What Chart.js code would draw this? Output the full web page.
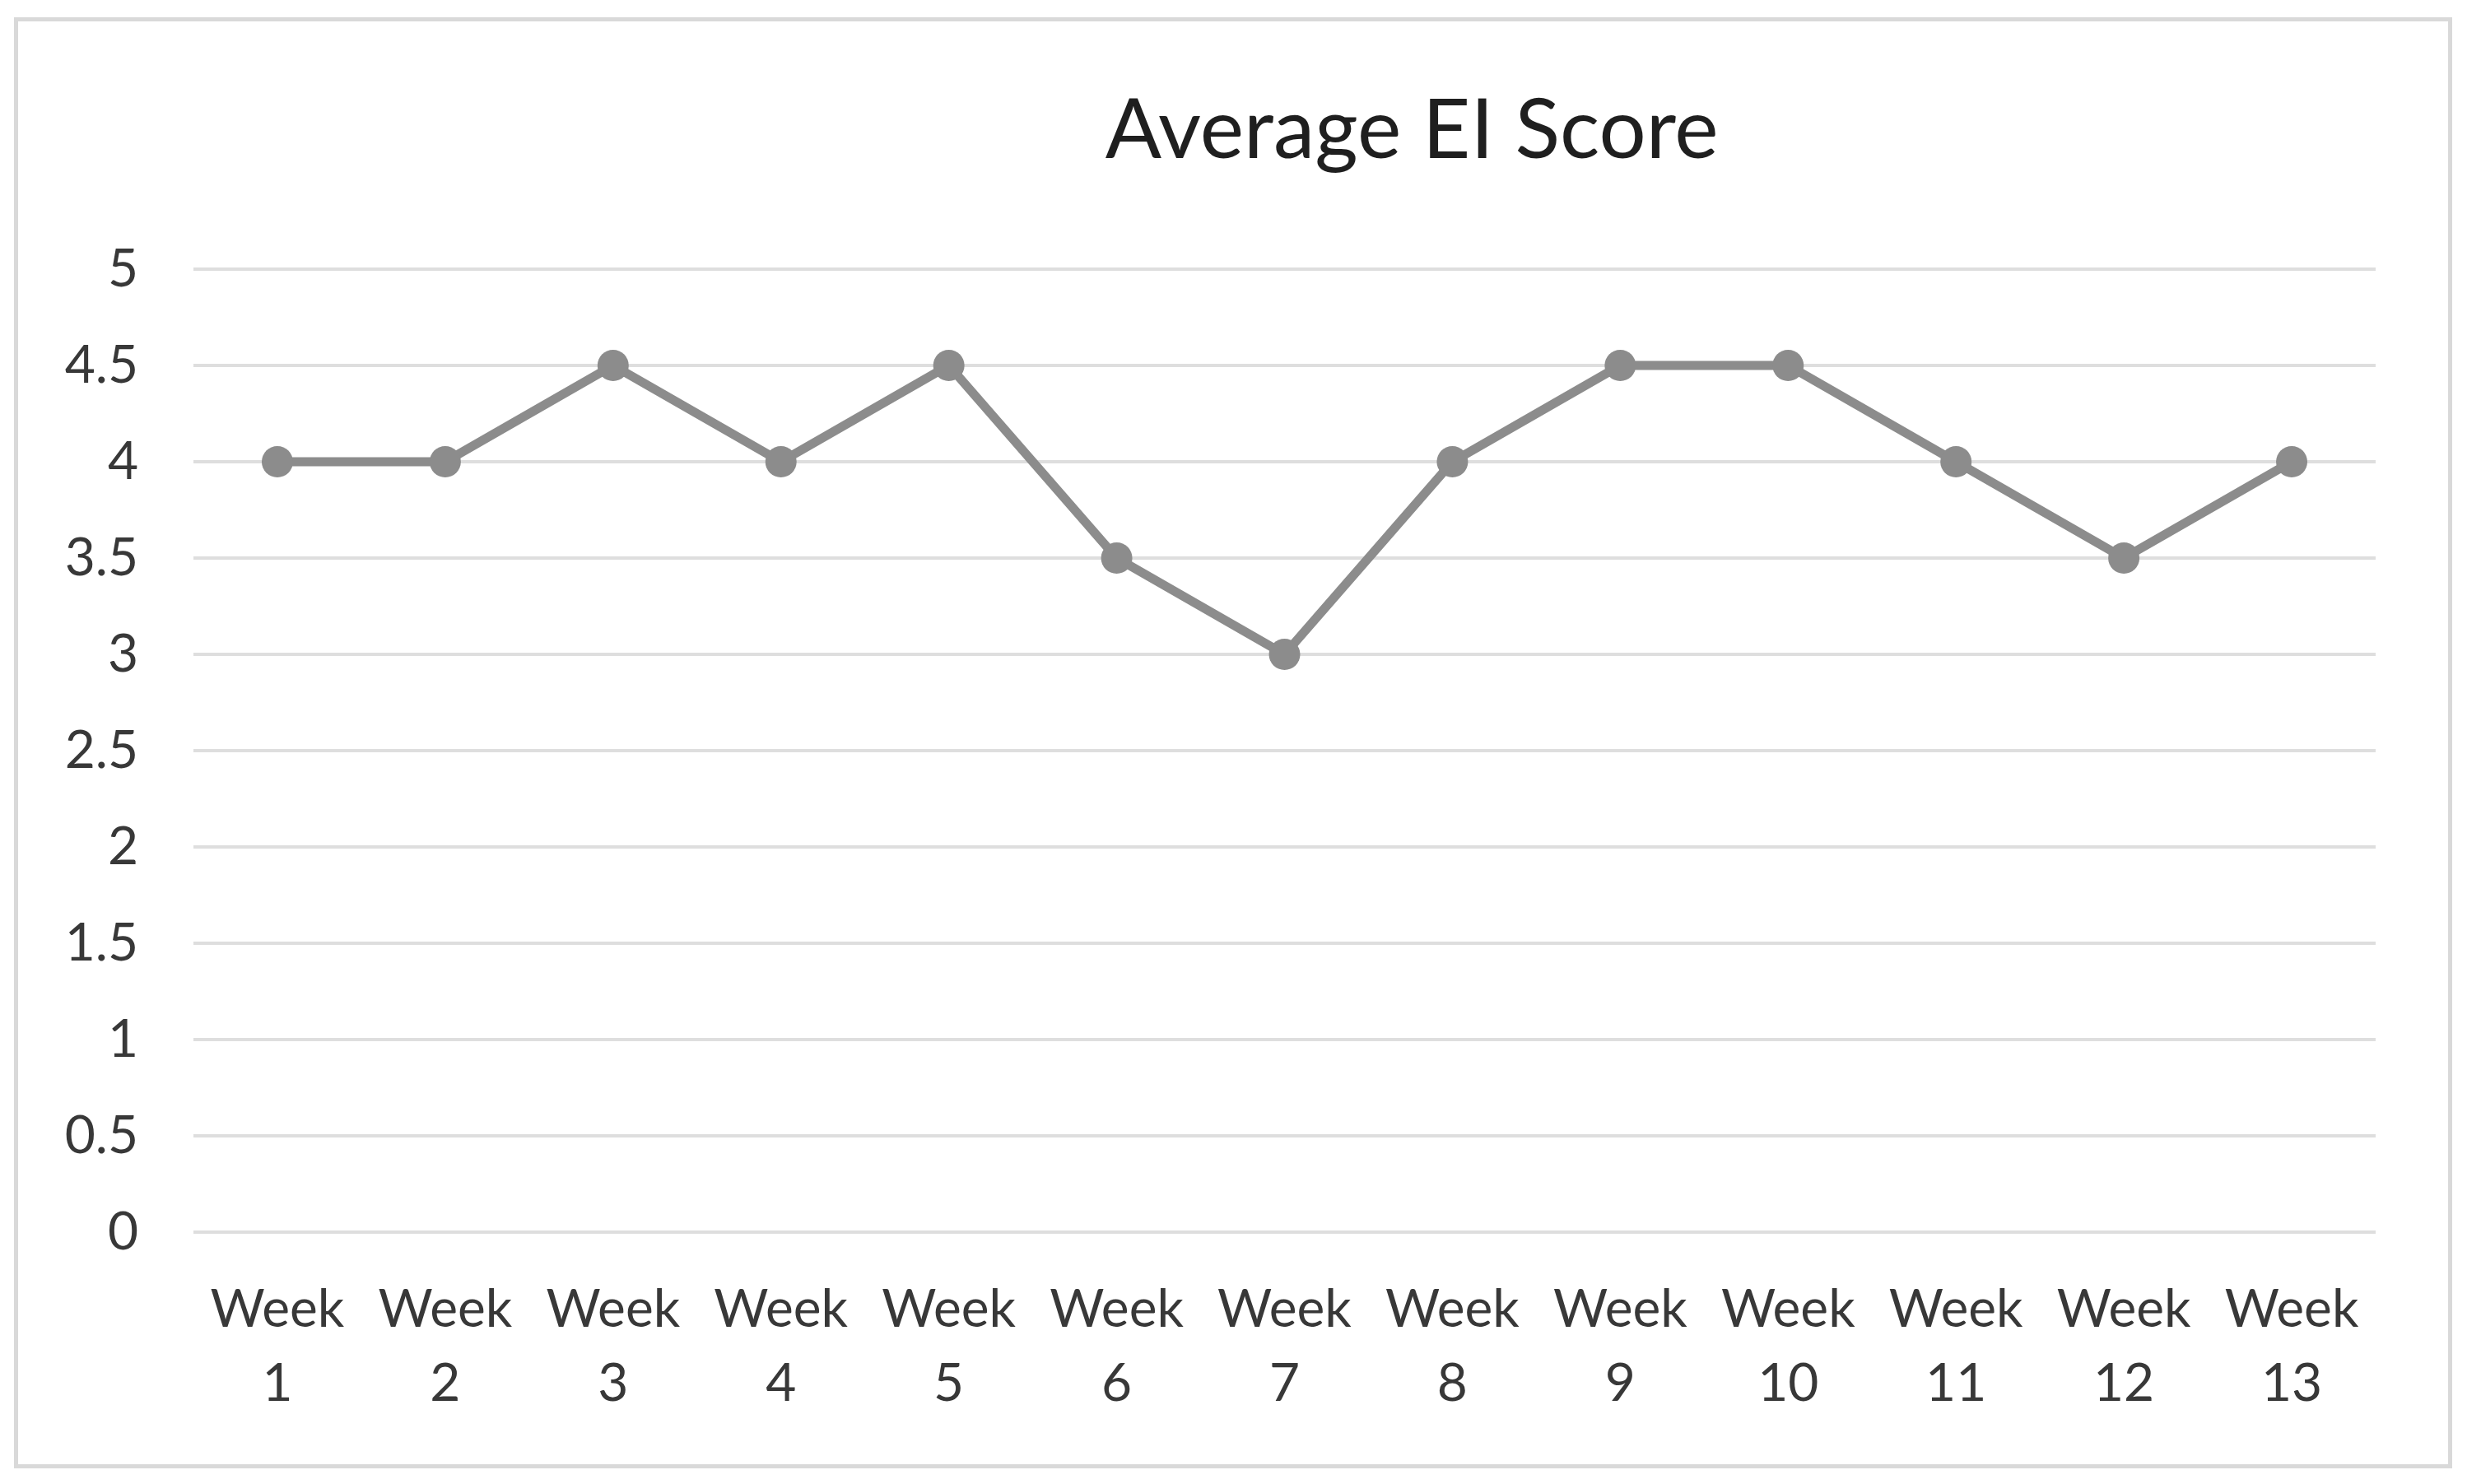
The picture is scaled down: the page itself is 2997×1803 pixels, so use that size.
<!DOCTYPE html>
<html>
<head>
<meta charset="utf-8">
<script src="https://cdn.jsdelivr.net/npm/chart.js@4"></script>
<style>
  body { margin: 0; background: #fff; }
  #wrap { position: relative; width: 2997px; height: 1803px; }
  #frame { position: absolute; left: 17px; top: 21px; width: 2952px; height: 1753px; border: 5px solid #d9d9d9; }
  canvas { position: absolute; left: 0; top: 0; }
</style>
</head>
<body>
<div id="wrap">
  <div id="frame"></div>
  <canvas id="chart" width="2997" height="1803"></canvas>
</div>
<script>
const weeks = ["1", "2", "3", "4", "5", "6", "7", "8", "9", "10", "11", "12", "13"];
const scores = [4, 4, 4.5, 4, 4.5, 3.5, 3, 4, 4.5, 4.5, 4, 3.5, 4];
const chartTitle = "Average EI Score";

// title sits right of centre in the original, so draw it by hand
const titlePlugin = {
  id: "offsetTitle",
  afterDraw(chart) {
    const ctx = chart.ctx;
    ctx.save();
    ctx.font = "101px Lato";
    ctx.fillStyle = "#1f1f1f";
    ctx.textAlign = "center";
    ctx.textBaseline = "middle";
    ctx.fillText(chartTitle, chart.width * 0.5723, 159);
    ctx.restore();
  },
};

new Chart(document.getElementById("chart"), {
  type: "line",
  data: {
    labels: weeks.map((w) => ["Week", w]),
    datasets: [
      {
        label: chartTitle,
        data: scores,
        borderColor: "#8c8c8c",
        backgroundColor: "#8c8c8c",
        borderWidth: 11,
        pointRadius: 19,
        pointBackgroundColor: "#8c8c8c",
        pointBorderWidth: 0,
        tension: 0,
      },
    ],
  },
  options: {
    responsive: false,
    animation: false,
    devicePixelRatio: 1,
    layout: { padding: { top: 327, right: 111, bottom: 0, left: 0 } },
    plugins: {
      legend: { display: false },
      title: { display: false },
      tooltip: { enabled: false },
    },
    scales: {
      x: {
        offset: true,
        grid: { display: false, drawTicks: false },
        border: { display: false },
        ticks: {
          padding: 50,
          maxRotation: 0,
          autoSkip: false,
          color: "#383838",
          font: { family: "Lato", size: 64, lineHeight: 1.4 },
        },
        afterFit: (scale) => { scale.height = 306; },
      },
      y: {
        min: 0,
        max: 5,
        grid: { color: "#dedede", lineWidth: 4, drawTicks: false },
        border: { display: false },
        ticks: {
          stepSize: 0.5,
          padding: 67,
          color: "#383838",
          font: { family: "Lato", size: 64 },
          callback: (value) => String(value),
        },
        afterFit: (scale) => { scale.width = 235; },
      },
    },
  },
  plugins: [titlePlugin],
});
</script>
</body>
</html>
